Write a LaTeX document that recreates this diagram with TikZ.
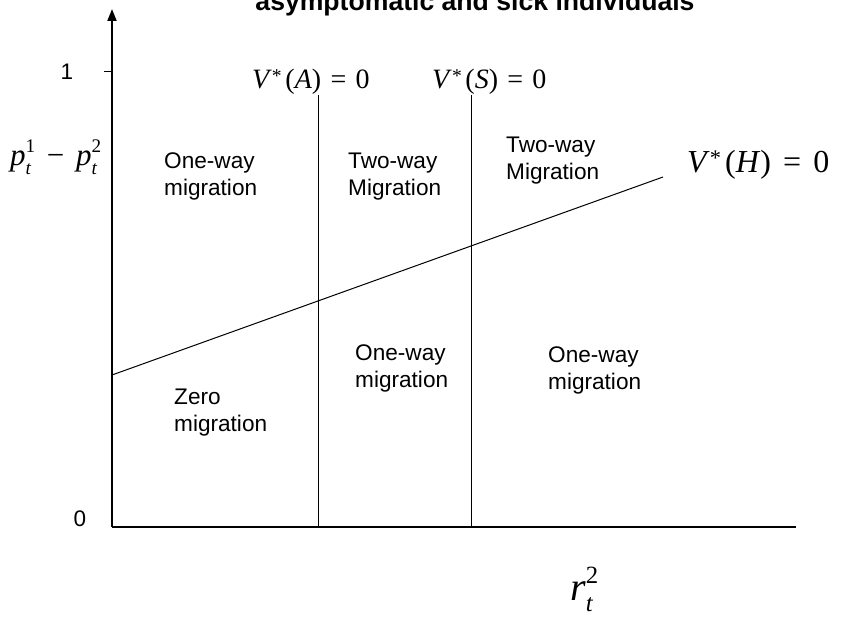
\documentclass[tikz,border=0pt]{standalone}
\usepackage{fontspec}
\usepackage{graphicx}
\usetikzlibrary{arrows.meta}
\setmainfont{Liberation Sans}
\newfontfamily\tnr{Liberation Serif}
\newfontfamily\arl{Liberation Sans}
% math-like pieces set in Times-like text
\newcommand\Vstar[2]{\textit{V}\raisebox{0.22em}{\scalebox{0.7}{*}}\hspace{0.13em}(\textit{#1})\hspace{#2}=\hspace{#2}0}
\newcommand\pvar[2]{\textit{#1}\rlap{\raisebox{0.42em}{\scalebox{0.62}{#2}}}\raisebox{-0.28em}{\scalebox{0.62}{\textit{t}}}\hspace{0.12em}}
\newcommand\twol[2]{\begin{tabular}[t]{@{}l@{}}#1\\#2\end{tabular}}
\tikzset{
  axisline/.style={line width=1.8pt},
  thinline/.style={line width=1pt},
  region/.style={inner sep=0pt, anchor=base west, font=\arl\fontsize{22.6}{26.5}\selectfont},
  ticklbl/.style={inner sep=0pt, font=\arl\fontsize{22.5}{26}\selectfont},
  mathlbl/.style={inner sep=0pt, anchor=base west},
}
\begin{document}
\begin{tikzpicture}[x=1pt,y=-1pt]
\useasboundingbox (0,0) rectangle (852,617);
\clip (0,0) rectangle (852,617);
% title (clipped at the top)
\node[inner sep=0pt, anchor=base, font=\arl\bfseries\fontsize{26.6}{30}\selectfont] (title) at (475,11) {asymptomatic and sick individuals};
% axes
\coordinate (O) at (112,527);
\coordinate (Ytop) at (112,9);
\coordinate (Xend) at (796,527);
\draw[axisline, -{Triangle[width=9pt,length=12pt]}] (O) -- (Ytop);
\draw[axisline] (O) -- (Xend);
% tick at 1
\coordinate (t1a) at (104,72);
\coordinate (t1b) at (112,72);
\draw[thinline] (t1a) -- (t1b);
\node[ticklbl] (one) at (67,72) {1};
\node[ticklbl] (zero) at (80,519) {0};
% vertical threshold lines
\coordinate (Atop) at (318,95);
\coordinate (Abot) at (318,527);
\coordinate (Stop) at (471,95);
\coordinate (Sbot) at (471,527);
\draw[thinline] (Atop) -- (Abot);
\draw[thinline] (Stop) -- (Sbot);
% H line
\coordinate (Hstart) at (112,375);
\coordinate (Hend) at (663,177);
\draw[thinline] (Hstart) -- (Hend);
% math labels
\node[mathlbl, font=\tnr\fontsize{28}{32}\selectfont] (VA) at (252,89) {\Vstar{A}{0.33em}};
\node[mathlbl, font=\tnr\fontsize{28}{32}\selectfont] (VS) at (432,89) {\Vstar{S}{0.33em}};
\node[mathlbl, font=\tnr\fontsize{32}{36}\selectfont] (VH) at (687,173) {\Vstar{H}{0.38em}};
\node[mathlbl, font=\tnr\fontsize{31}{34}\selectfont] (plab) at (10,166) {\pvar{p}{1}\hspace{0.38em}\textminus\hspace{0.38em}\pvar{p}{2}};
\node[mathlbl, font=\tnr\fontsize{40}{44}\selectfont] (rlab) at (570,600) {\pvar{r}{2}};
% region labels
\node[region] (r1) at (164,169) {\twol{One-way}{migration}};
\node[region] (r2) at (348,169) {\twol{Two-way}{Migration}};
\node[region] (r3) at (506,153) {\twol{Two-way}{Migration}};
\node[region] (r4) at (355,361) {\twol{One-way}{migration}};
\node[region] (r5) at (548,363) {\twol{One-way}{migration}};
\node[region] (r6) at (174,405) {\twol{Zero}{migration}};
\end{tikzpicture}
\end{document}
